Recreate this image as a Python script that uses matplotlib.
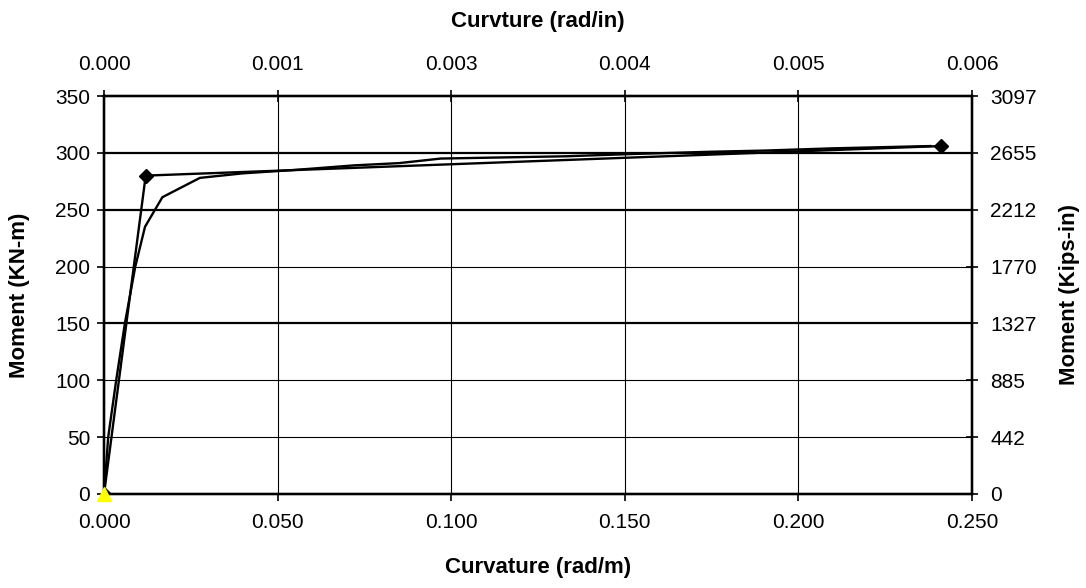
import matplotlib.pyplot as plt
import numpy as np

plt.rcParams['font.family'] = ['Liberation Sans', 'DejaVu Sans']

# bilinear idealisation (diamond markers)
bilin_x = [0.0, 0.0120, 0.2410]
bilin_y = [0.0, 280.0, 306.0]

# moment-curvature curve
curve_x = [0.0, 0.0012, 0.0035, 0.0060, 0.0090, 0.0118, 0.0168, 0.0276, 0.040,
           0.055, 0.072, 0.085, 0.097, 0.115, 0.133, 0.152, 0.175, 0.190,
           0.210, 0.238]
curve_y = [0.0, 50.0, 100.0, 150.0, 200.0, 235.0, 261.0, 278.0, 282.0,
           285.0, 289.0, 291.0, 295.0, 296.0, 297.0, 299.0, 301.0, 302.0,
           304.0, 306.0]

# origin point
origin_x = [0.0]
origin_y = [0.0]

x_ticks = [0.0, 0.05, 0.10, 0.15, 0.20, 0.25]
y_ticks = [0, 50, 100, 150, 200, 250, 300, 350]
right_ticks = [0, 442, 885, 1327, 1770, 2212, 2655, 3097]
m_per_in = 39.37

fig = plt.figure(figsize=(10.86, 5.88), dpi=100)
ax = fig.add_axes([0.0958, 0.1599, 0.7992, 0.6768])

# top axis in rad/in
axt = ax.twiny()
axt.set_xlim(0, 0.25 / m_per_in)
top_pos = [v / m_per_in for v in x_ticks]
axt.set_xticks(top_pos)
axt.set_xticklabels(['%.3f' % v for v in top_pos])
axt.tick_params(axis='x', labelsize=15, width=1.2, length=8,
                direction='inout', pad=12)
axt.set_xlabel('Curvture (rad/in)', fontsize=16, fontweight='bold',
               labelpad=20)

# right axis in kips-in
axr = ax.twinx()
axr.set_ylim(0, 3097)
axr.set_yticks(right_ticks)
axr.tick_params(axis='y', labelsize=15, width=1.2, length=8,
                direction='inout', pad=9)
axr.set_ylabel('Moment (Kips-in)', fontsize=16, fontweight='bold',
               labelpad=16)

for a in (axt, axr):
    for s in a.spines.values():
        s.set_linewidth(1.6)

# main axes drawn over the twins
ax.set_zorder(3)
ax.patch.set_visible(False)

for v in x_ticks[1:-1]:
    ax.axvline(v, color='black', lw=0.8, zorder=1)
for v in y_ticks[1:-1]:
    lw = 1.6 if v in (150, 250, 300) else 0.8
    ax.axhline(v, color='black', lw=lw, zorder=1)

ax.plot(curve_x, curve_y, color='black', lw=1.7, zorder=3)
ax.plot(bilin_x, bilin_y, color='black', lw=1.7, marker='D', markersize=7,
        zorder=4)
ax.plot(origin_x, origin_y, linestyle='none', marker='^', color='#ffff00',
        markersize=10, clip_on=False, zorder=5)

ax.set_xlim(0, 0.25)
ax.set_ylim(0, 350)
ax.set_xticks(x_ticks)
ax.set_xticklabels(['%.3f' % v for v in x_ticks])
ax.set_yticks(y_ticks)
ax.tick_params(axis='x', labelsize=15, width=1.2, length=5,
               direction='out', pad=9)
ax.tick_params(axis='y', labelsize=15, width=1.2, length=5,
               direction='out', pad=5)
ax.set_xlabel('Curvature (rad/m)', fontsize=16, fontweight='bold',
              labelpad=17.5)
ax.set_ylabel('Moment (KN-m)', fontsize=16, fontweight='bold', labelpad=18)

for s in ax.spines.values():
    s.set_linewidth(1.6)
    s.set_color('black')

fig.savefig('out.png', dpi=100)
